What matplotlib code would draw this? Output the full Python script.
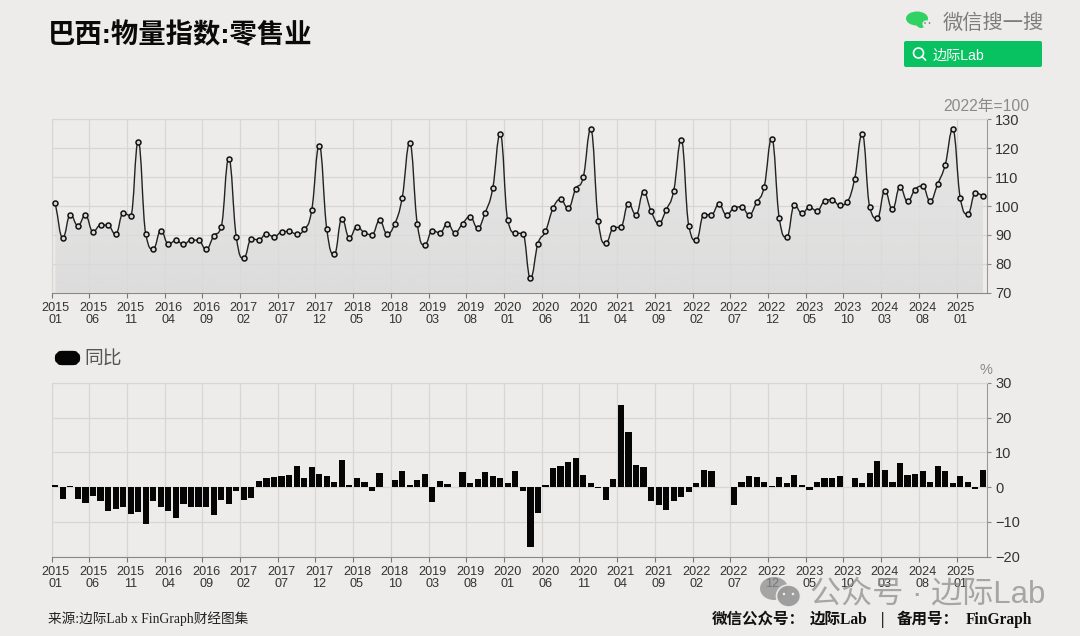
import numpy as np
import matplotlib
matplotlib.use('Agg')
import matplotlib.pyplot as plt
from matplotlib.patches import Circle, Ellipse, FancyBboxPatch, PathPatch
from matplotlib.path import Path

# values, 2015-01 to 2025-04
index_values = [
    100.9, 89.0, 97.0, 93.2, 96.8, 91.1, 93.4, 93.3, 90.2, 97.5, 96.7, 122.3,
    90.3, 85.2, 91.5, 86.8, 88.1, 86.7, 88.2, 88.1, 85.0, 89.6, 92.8, 116.4,
    89.3, 82.0, 88.6, 88.3, 90.4, 89.3, 91.0, 91.2, 90.3, 91.9, 98.5, 120.9,
    92.0, 83.3, 95.6, 89.0, 92.8, 90.7, 90.1, 95.0, 90.4, 93.8, 102.9, 121.8,
    93.8, 86.6, 91.5, 90.7, 93.9, 90.8, 93.9, 96.3, 92.4, 97.7, 106.1, 125.0,
    95.0, 90.7, 90.4, 75.0, 87.0, 91.2, 99.2, 102.3, 99.2, 105.9, 109.9, 126.5,
    94.7, 87.2, 92.4, 92.8, 100.8, 97.0, 104.8, 98.2, 94.0, 98.7, 105.3, 122.8,
    93.2, 88.2, 97.0, 97.0, 100.6, 96.9, 99.3, 99.7, 97.0, 101.3, 106.7, 123.3,
    95.7, 89.3, 100.3, 97.5, 99.5, 98.3, 101.7, 102.2, 100.2, 101.5, 109.5, 124.9,
    99.5, 95.8, 105.3, 98.8, 106.6, 101.6, 105.7, 106.9, 101.7, 107.6, 114.3, 126.5,
    102.7, 97.3, 104.5, 103.6,
]
yoy_values = [
    0.5, -3.3, 0.4, -3.3, -4.5, -2.7, -3.9, -6.9, -6.3, -5.7, -7.8, -7.2,
    -10.6, -4.1, -5.7, -6.9, -8.9, -4.8, -5.6, -5.6, -5.7, -8.1, -3.8, -4.9,
    -1.2, -3.6, -3.2, 1.7, 2.6, 2.9, 3.2, 3.6, 6.2, 2.6, 5.9, 3.9,
    3.2, 1.5, 7.9, 0.6, 2.7, 1.5, -1.0, 4.1, 0.1, 1.9, 4.5, 0.6,
    1.9, 3.9, -4.4, 1.8, 1.0, 0.1, 4.2, 1.3, 2.2, 4.2, 3.1, 2.6,
    1.3, 4.7, -1.1, -17.1, -7.3, 0.5, 5.5, 6.2, 7.3, 8.4, 3.6, 1.3,
    -0.3, -3.7, 2.2, 23.7, 15.9, 6.3, 5.7, -4.0, -5.0, -6.7, -4.1, -2.8,
    -1.4, 1.3, 4.9, 4.6, 0.05, 0.05, -5.2, 1.6, 3.3, 2.8, 1.4, 0.4,
    2.8, 1.2, 3.5, 0.6, -0.9, 1.4, 2.6, 2.6, 3.3, 0.1, 2.7, 1.3,
    4.0, 7.4, 5.0, 1.4, 7.0, 3.4, 3.8, 4.7, 1.6, 6.0, 4.6, 1.3,
    3.1, 1.6, -0.6, 4.8,
]
x_labels = [
    '2015\n01', '2015\n06', '2015\n11', '2016\n04', '2016\n09', '2017\n02', '2017\n07',
    '2017\n12', '2018\n05', '2018\n10', '2019\n03', '2019\n08', '2020\n01', '2020\n06',
    '2020\n11', '2021\n04', '2021\n09', '2022\n02', '2022\n07', '2022\n12', '2023\n05',
    '2023\n10', '2024\n03', '2024\n08', '2025\n01',
]
top_ticks = [70, 80, 90, 100, 110, 120, 130]
bottom_ticks = [-20, -10, 0, 10, 20, 30]

CJK = ['Liberation Sans', 'Noto Sans CJK SC']
SERIF = ['Liberation Serif', 'Noto Sans CJK SC']
BG = '#edecea'
GRID = '#d6d6d4'
W, H = 1080, 636

plt.rcParams['font.family'] = CJK
fig = plt.figure(figsize=(W / 100, H / 100), dpi=100, facecolor=BG)


def add_axes(left, top, right, bottom):
    return fig.add_axes([left / W, 1 - bottom / H, (right - left) / W, (bottom - top) / H], facecolor=BG)


def style_axes(ax, ylim, yticks):
    n = len(index_values)
    ax.set_xlim(-0.5, n - 0.5)
    ax.set_ylim(*ylim)
    ax.set_xticks(np.arange(len(x_labels)) * 5 - 0.5)
    ax.set_xticklabels([])
    ax.set_xticks(np.arange(len(x_labels)) * 5, labels=x_labels, minor=True)
    ax.tick_params(axis='x', which='minor', length=0, labelsize=9.1, labelcolor='#333333', pad=6.5)
    ax.tick_params(axis='x', which='major', length=3.5, color='#777777', width=0.8)
    ax.yaxis.tick_right()
    ax.set_yticks(yticks)
    ax.tick_params(axis='y', length=3, color='#888888', width=0.8, labelsize=10.5, labelcolor='#333333', pad=3)
    ax.grid(True, which='major', color=GRID, lw=0.9)
    ax.set_axisbelow(True)
    for side in ['left', 'top']:
        ax.spines[side].set_color(GRID)
    ax.spines['right'].set_color('#999999')
    ax.spines['bottom'].set_color('#888888')
    for label in ax.get_xticklabels(minor=True):
        label.set_linespacing(1.0)


def smooth_path(x, y, close_at=None):
    # bezier through the points, flat at each local peak or trough
    x = np.asarray(x, float)
    y = np.asarray(y, float)
    d = np.diff(y)
    t = np.zeros_like(y)
    t[0], t[-1] = d[0], d[-1]
    for i in range(1, len(y) - 1):
        if d[i - 1] * d[i] > 0:
            t[i] = np.sign(d[i]) * min(abs(d[i - 1] + d[i]) / 2, 2.5 * abs(d[i - 1]), 2.5 * abs(d[i]))
    verts = [(x[0], y[0])]
    codes = [Path.MOVETO]
    k = 0.45
    for i in range(len(y) - 1):
        verts += [(x[i] + k, y[i] + k * t[i]), (x[i + 1] - k, y[i + 1] - k * t[i + 1]), (x[i + 1], y[i + 1])]
        codes += [Path.CURVE4] * 3
    if close_at is not None:
        verts += [(x[-1], close_at), (x[0], close_at), (x[0], y[0])]
        codes += [Path.LINETO, Path.LINETO, Path.CLOSEPOLY]
    return Path(verts, codes)


# top chart
ax1 = add_axes(51.5, 119.3, 986.7, 292.7)
style_axes(ax1, (70, 130), top_ticks)
months = np.arange(len(index_values))

fill = PathPatch(smooth_path(months, index_values, close_at=70), facecolor='none', edgecolor='none')
ax1.add_patch(fill)
shade = ax1.imshow(np.linspace(0.90, 0.85, 64).reshape(-1, 1), extent=(-0.5, len(months) - 0.5, 70, 130),
                   origin='upper', aspect='auto', cmap='gray', vmin=0, vmax=1, zorder=2, alpha=0.8)
shade.set_clip_path(fill)
ax1.add_patch(PathPatch(smooth_path(months, index_values), facecolor='none', edgecolor='#222222', lw=1.0, zorder=3))
ax1.plot(months, index_values, ls='none', marker='o', ms=3.6, mfc='#d8d8d8', mec='#111111', mew=1.1, zorder=4)

# bottom chart
ax2 = add_axes(51.5, 382.7, 986.7, 556.7)
style_axes(ax2, (-20, 30), bottom_ticks)
ax2.bar(months, yoy_values, width=0.82, color='#050505', zorder=3)

# overlay in picture pixels for titles, logo and watermark
over = fig.add_axes([0, 0, 1, 1], facecolor='none')
over.set_xlim(0, W)
over.set_ylim(H, 0)
over.axis('off')

over.text(48, 36, '巴西:物量指数:零售业', fontsize=19.7, fontweight='bold', color='#0a0a0a', va='center')
over.text(1029, 107, '2022年=100', fontsize=11.3, color='#8a8a8a', ha='right', va='center')
over.text(980, 369.5, '%', fontsize=10.5, color='#8a8a8a', ha='left', va='center')

over.add_patch(FancyBboxPatch((59, 355), 17, 6, boxstyle='round,pad=0,rounding_size=3', fc='#050505', ec='#050505', lw=6))
over.text(84, 360, '同比', fontsize=13.5, color='#555555', va='center')

# search box
over.text(943, 23, '微信搜一搜', fontsize=14.6, color='#7d7d7d', va='center')
over.add_patch(Ellipse((917, 18.5), 22, 14, fc='#2fd263', ec='none'))
over.add_patch(Circle((921, 23), 5, fc='#2fd263', ec='none'))
over.add_patch(Circle((926, 24), 3.6, fc=BG, ec='none'))
over.add_patch(Circle((925, 23), 0.8, fc='#666666', ec='none'))
over.add_patch(Circle((929.5, 23), 0.8, fc='#666666', ec='none'))
over.add_patch(FancyBboxPatch((904, 41), 138, 26, boxstyle='round,pad=0,rounding_size=2', fc='#08c160', ec='none'))
over.add_patch(Circle((918.5, 53), 5, fc='none', ec='white', lw=1.2))
over.plot([922, 925.5], [56.5, 60], color='white', lw=1.2)
over.text(933, 55.5, '边际Lab', fontsize=10.2, color='white', va='center')

# footer
over.text(48, 619, '来源:边际Lab x FinGraph财经图集', fontsize=9.85, color='#222222', va='center', family=SERIF)
footer = dict(fontsize=11.2, fontweight='bold', color='#111111', va='center', family=SERIF)
over.text(712, 620, '微信公众号：', **footer)
over.text(810, 620, '边际Lab', **footer)
over.text(881, 620, '|', **footer)
over.text(897, 620, '备用号：', **footer)
over.text(1032, 620, 'FinGraph', ha='right', **footer)

# watermark
over.add_patch(Ellipse((774, 588.5), 28, 23, fc='#8e8e8e', ec='none', alpha=0.75))
over.add_patch(Ellipse((788.5, 596), 24, 22, fc='#9a9a9a', ec=BG, lw=1.2, alpha=0.95))
for dot_x in [784, 793]:
    over.add_patch(Circle((dot_x, 594), 1.3, fc=BG, ec='none'))
over.text(810, 594, '公众号 · 边际Lab', fontsize=22.4, va='center', color='#8e8e8e', alpha=0.75)

fig.savefig('out.png', dpi=100, facecolor=BG)
